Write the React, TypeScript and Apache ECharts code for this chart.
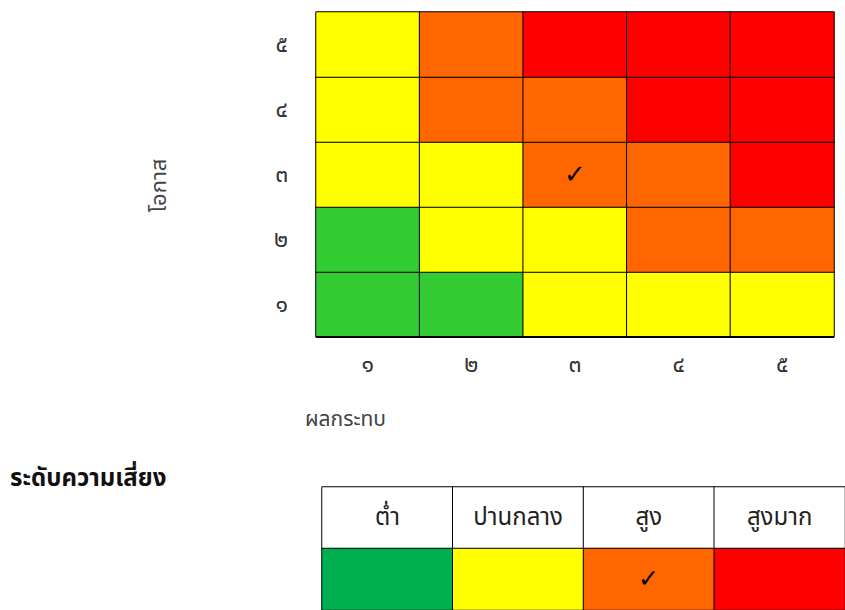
import React, { useEffect, useRef } from "react";
import * as echarts from "echarts";

const impactLabels = ["๑", "๒", "๓", "๔", "๕"];
const likelihoodLabels = ["๑", "๒", "๓", "๔", "๕"];
// risk level per likelihood row (bottom ๑ to top ๕), per impact column ๑..๕
const riskRow1 = [1, 1, 2, 2, 2];
const riskRow2 = [1, 2, 2, 3, 3];
const riskRow3 = [2, 2, 3, 3, 4];
const riskRow4 = [2, 3, 3, 4, 4];
const riskRow5 = [2, 3, 4, 4, 4];
const riskRows = [riskRow1, riskRow2, riskRow3, riskRow4, riskRow5];
const checkedCell = [2, 2]; // impact ๓, likelihood ๓
const matrixColors = ["#33cc33", "#ffff00", "#ff6600", "#ff0000"];

const levelNames = ["ต่ำ", "ปานกลาง", "สูง", "สูงมาก"];
const levelColors = ["#00b050", "#ffff00", "#ff6600", "#ff0000"];
const checkedLevel = 2;

const FONT = "'Noto Sans Thai', Tahoma, 'Leelawadee UI', 'Noto Sans', sans-serif";

export default function App() {
  const ref = useRef<HTMLDivElement>(null);
  useEffect(() => {
    document.body.style.margin = "0";
    document.body.style.overflow = "hidden";
    const chart = echarts.init(ref.current!, null, { renderer: "svg" });

    const matrixData: any[] = [];
    riskRows.forEach((row, yi) => {
      row.forEach((lvl, xi) => {
        matrixData.push([xi, yi, lvl]);
      });
    });

    const tableData: any[] = [];
    levelNames.forEach((name, i) => {
      tableData.push({
        value: [i, 1, 0],
        label: { formatter: name, fontSize: 24, color: "#222" },
      });
      tableData.push({
        value: [i, 0, i + 1],
        label: { formatter: i === checkedLevel ? "✓" : "", fontSize: 25, color: "#000" },
      });
    });

    chart.setOption({
      animation: false,
      textStyle: { fontFamily: FONT },
      grid: [
        { left: 316, top: 12, right: 11, bottom: 273, containLabel: false },
        { left: 322, top: 487, width: 524, height: 126, containLabel: false },
      ],
      visualMap: [
        {
          type: "piecewise",
          show: false,
          seriesIndex: 0,
          dimension: 2,
          pieces: matrixColors.map((c, i) => ({ value: i + 1, color: c })),
        },
        {
          type: "piecewise",
          show: false,
          seriesIndex: 1,
          dimension: 2,
          pieces: [{ value: 0, color: "#ffffff" }].concat(
            levelColors.map((c, i) => ({ value: i + 1, color: c }))
          ),
        },
      ],
      xAxis: [
        {
          type: "category",
          gridIndex: 0,
          data: impactLabels,
          axisTick: { show: false },
          axisLine: { show: false },
          axisLabel: { fontSize: 23, color: "#333", margin: 16, fontFamily: FONT },
          splitLine: { show: false },
        },
        {
          type: "category",
          gridIndex: 1,
          data: levelNames,
          show: false,
        },
      ],
      yAxis: [
        {
          type: "category",
          gridIndex: 0,
          data: likelihoodLabels,
          axisTick: { show: false },
          axisLine: { show: false },
          axisLabel: { fontSize: 23, color: "#333", margin: 28, fontFamily: FONT },
          name: "โอกาส",
          nameLocation: "middle",
          nameRotate: 90,
          nameGap: 146,
          nameTextStyle: { fontSize: 22, color: "#444", fontFamily: FONT, padding: [0, 22, 0, 0] },
        },
        {
          type: "category",
          gridIndex: 1,
          data: ["color", "header"],
          show: false,
        },
      ],
      graphic: [
        {
          type: "text",
          left: 305,
          top: 409,
          style: { text: "ผลกระทบ", fill: "#444", font: `21px ${FONT}` },
        },
        {
          type: "text",
          left: 10,
          top: 467,
          style: { text: "ระดับความเสี่ยง", fill: "#111", font: `bold 24px ${FONT}` },
        },
        {
          type: "line",
          z: 10,
          shape: { x1: 316, y1: 337, x2: 834, y2: 337 },
          style: { stroke: "#000", lineWidth: 2 },
        },
      ],
      series: [
        {
          type: "heatmap",
          xAxisIndex: 0,
          yAxisIndex: 0,
          data: matrixData,
          itemStyle: { borderColor: "#000", borderWidth: 1 },
          label: {
            show: true,
            fontSize: 26,
            color: "#000",
            formatter: (p: any) =>
              p.value[0] === checkedCell[0] && p.value[1] === checkedCell[1] ? "✓" : "",
          },
          emphasis: { disabled: true },
        },
        {
          type: "heatmap",
          xAxisIndex: 1,
          yAxisIndex: 1,
          data: tableData,
          itemStyle: { borderColor: "#000", borderWidth: 1 },
          label: { show: true, fontFamily: FONT },
          emphasis: { disabled: true },
        },
      ],
    });
    return () => chart.dispose();
  }, []);
  return <div ref={ref} style={{ width: 845, height: 610 }} />;
}
